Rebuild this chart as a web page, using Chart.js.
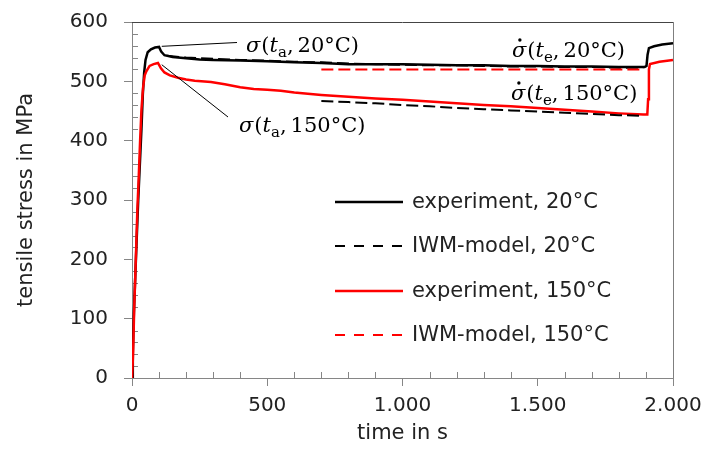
<!DOCTYPE html>
<html lang="en">
<head>
<meta charset="UTF-8">
<title>tensile stress</title>
<script src="https://cdn.jsdelivr.net/npm/chart.js"></script>
<style>
  body { margin: 0; background: #fff; }
</style>
</head>
<body>
<canvas id="grafico" width="705" height="454"></canvas>
<script>
// experiment, 20°C  (time in s / stress in MPa)
const tExp20 = [0,3,7,12,17,23,29,35,40,45,50,58,70,85,100,108,120,150,200,250,300,400,500,600,700,800,900,1000,1100,1200,1300,1400,1500,1600,1700,1800,1895,1902,1906,1911,1930,1960,2000];
const sExp20 = [0,40,110,170,230,300,360,420,478,515,536,549,554,557,558,550,544,541,539,537,536,535,534,532,531,529,529,529,528,527,527,526,526,525,525,524,524,526,545,556,559,562,564];

// experiment, 150°C
const tExp150 = [0,4,8,12,16,20,25,30,35,41,47,53,65,80,96,101,107,120,140,170,200,232,292,343,400,450,500,550,600,650,700,800,900,1000,1100,1200,1300,1400,1500,1600,1700,1800,1890,1905,1908,1911,1915,1950,2000];
const sExp150 = [0,40,115,170,228,285,340,400,453,490,510,517,526,529,531,527,522,515,510,506,503,501,499,495,490,487,486,484,481,479,477,474,471,469,466,463,460,458,455,452,449,446,444,444,470,520,529,533,536];

// IWM-model, 20°C (upper, along the 20°C test)
const tMod20 = [130,200,300,400,500,600,700,800,900,1000,1100,1200,1300,1400,1500,1600,1700,1800,1890];
const sMod20 = [543,540,538,536,535,533,532,530,529,528,527,527,526,525,525,524,524,523,523];

// black dashed line along the 150°C test
const tModLow = [700,800,900,1000,1100,1200,1300,1400,1500,1600,1700,1800,1890];
const sModLow = [467,465,463,460,458,455,453,451,449,447,445,443,442];

// IWM-model, 150°C
const tMod150 = [700,1890];
const sMod150 = [520,520];

const xTickLabels = ['0','500','1.000','1.500','2.000'];

function pares(t, s) {
  return t.map((v, i) => ({ x: v, y: s[i] }));
}

const dados = {
  datasets: [
    { label: 'experiment, 20°C', data: pares(tExp20, sExp20), borderColor: '#000000', borderWidth: 2.5, order: 3 },
    { label: 'IWM-model, 20°C', data: pares(tMod20, sMod20), borderColor: '#000000', borderWidth: 2, borderDash: [12, 5], order: 1, legDash: [10, 9] },
    { label: 'experiment, 150°C', data: pares(tExp150, sExp150), borderColor: '#ff0000', borderWidth: 2.5, order: 2 },
    { label: 'IWM-model, 150°C', data: pares(tMod150, sMod150), borderColor: '#ff0000', borderWidth: 2, borderDash: [12, 5], order: 0, legDash: [10, 9] },
    { label: '', data: pares(tModLow, sModLow), borderColor: '#000000', borderWidth: 2, borderDash: [12, 5], order: 0 }
  ]
};

const corTexto = '#222222';
const corEixo = '#868686';

function drawMath(ctx, x, y, parts) {
  parts.forEach(p => {
    ctx.font = p.f;
    const w = ctx.measureText(p.t).width;
    ctx.fillText(p.t, x, y + (p.dy || 0));
    if (p.dot) {
      ctx.beginPath();
      ctx.arc(x + w * 0.55, y - 17, 1.7, 0, 2 * Math.PI);
      ctx.fill();
    }
    x += w + (p.sp || 0);
  });
}

const IT = 'italic 21px "DejaVu Serif"';
const UP = '21px "DejaVu Serif"';
const SB = '15px "DejaVu Serif"';

function rotulo(dot, sub, temp) {
  return [
    { t: '\u03C3', f: IT, dot: dot, sp: 1 },
    { t: '(', f: UP },
    { t: 't', f: IT },
    { t: sub, f: SB, dy: 5 },
    { t: ',', f: UP, sp: 4 },
    { t: temp + '\u00B0C)', f: UP }
  ];
}

const extras = {
  id: 'extras',
  beforeDatasetsDraw(chart) {
    const ctx = chart.ctx;
    const xs = chart.scales.x, ys = chart.scales.y;
    const a = chart.chartArea;
    ctx.save();
    ctx.strokeStyle = corEixo;
    ctx.lineWidth = 1;
    // minor ticks inside
    for (let v = 20; v < 600; v += 20) {
      if (v % 100 === 0) continue;
      const py = Math.round(ys.getPixelForValue(v)) + 0.5;
      ctx.beginPath(); ctx.moveTo(a.left, py); ctx.lineTo(a.left + 6, py); ctx.stroke();
    }
    for (let v = 100; v < 2000; v += 100) {
      if (v % 500 === 0) continue;
      const px = Math.round(xs.getPixelForValue(v)) + 0.5;
      ctx.beginPath(); ctx.moveTo(px, a.bottom); ctx.lineTo(px, a.bottom - 6); ctx.stroke();
    }
    // plot border top / right
    ctx.strokeStyle = '#444444';
    ctx.beginPath(); ctx.moveTo(a.left, a.top + 0.5); ctx.lineTo(a.right, a.top + 0.5); ctx.stroke();
    ctx.strokeStyle = '#7f7f7f';
    ctx.beginPath(); ctx.moveTo(a.right + 0.5, a.top); ctx.lineTo(a.right + 0.5, a.bottom); ctx.stroke();
    ctx.restore();
  },
  afterDatasetsDraw(chart) {
    const ctx = chart.ctx;
    const xs = chart.scales.x, ys = chart.scales.y;
    ctx.save();
    // leader lines from the peaks
    ctx.strokeStyle = '#000000';
    ctx.lineWidth = 1;
    ctx.beginPath();
    ctx.moveTo(xs.getPixelForValue(110), ys.getPixelForValue(559));
    ctx.lineTo(237, 42.5);
    ctx.moveTo(xs.getPixelForValue(110), ys.getPixelForValue(528));
    ctx.lineTo(228, 117);
    ctx.stroke();

    ctx.fillStyle = '#000000';
    ctx.textBaseline = 'alphabetic';
    ctx.textAlign = 'left';
    drawMath(ctx, 246, 52, rotulo(false, 'a', '20'));
    drawMath(ctx, 239, 132, rotulo(false, 'a', '150'));
    drawMath(ctx, 512, 57, rotulo(true, 'e', '20'));
    drawMath(ctx, 511, 100, rotulo(true, 'e', '150'));

    // legend
    const linhas = [202, 246, 291, 335];
    let k = 0;
    chart.data.datasets.forEach(ds => {
      if (!ds.label) return;
      const y = linhas[k++];
      ctx.strokeStyle = ds.borderColor;
      ctx.lineWidth = ds.borderWidth;
      ctx.setLineDash(ds.legDash || []);
      ctx.beginPath(); ctx.moveTo(335, y); ctx.lineTo(403, y); ctx.stroke();
      ctx.setLineDash([]);
      ctx.fillStyle = corTexto;
      ctx.font = '21px "DejaVu Sans"';
      ctx.textBaseline = 'middle';
      ctx.fillText(ds.label, 412, y + 1);
    });
    ctx.restore();
  }
};

const config = {
  type: 'line',
  data: dados,
  options: {
    responsive: false,
    animation: false,
    events: [],
    elements: { point: { radius: 0 }, line: { tension: 0, fill: false } },
    layout: { padding: { top: 22, right: 32, left: 0, bottom: 0 } },
    plugins: { legend: { display: false }, tooltip: { enabled: false } },
    scales: {
      x: {
        type: 'linear', min: 0, max: 2000,
        afterFit: s => { s.height = 76; s.paddingRight = 0; s.paddingLeft = 0; },
        border: { color: corEixo },
        grid: { drawOnChartArea: false, color: corEixo, tickLength: 8 },
        ticks: {
          stepSize: 500, padding: 8, color: corTexto, maxRotation: 0,
          font: { family: 'DejaVu Sans', size: 20 },
          callback: (v) => xTickLabels[v / 500]
        },
        title: { display: true, text: 'time in s', color: corTexto, padding: { top: 0, bottom: 8 }, font: { family: 'DejaVu Sans', size: 21 } }
      },
      y: {
        min: 0, max: 600,
        afterFit: s => { s.width = 132; s.paddingTop = 0; s.paddingBottom = 0; },
        border: { color: corEixo },
        grid: { drawOnChartArea: false, color: corEixo, tickLength: 8 },
        ticks: { stepSize: 100, padding: 16, color: corTexto, font: { family: 'DejaVu Sans', size: 20 } },
        title: { display: true, text: 'tensile stress in MPa', color: corTexto, padding: { top: 14, bottom: 0 }, font: { family: 'DejaVu Sans', size: 21 } }
      }
    }
  },
  plugins: [extras]
};

let myChart = new Chart(document.getElementById('grafico'), config);
</script>
</body>
</html>
